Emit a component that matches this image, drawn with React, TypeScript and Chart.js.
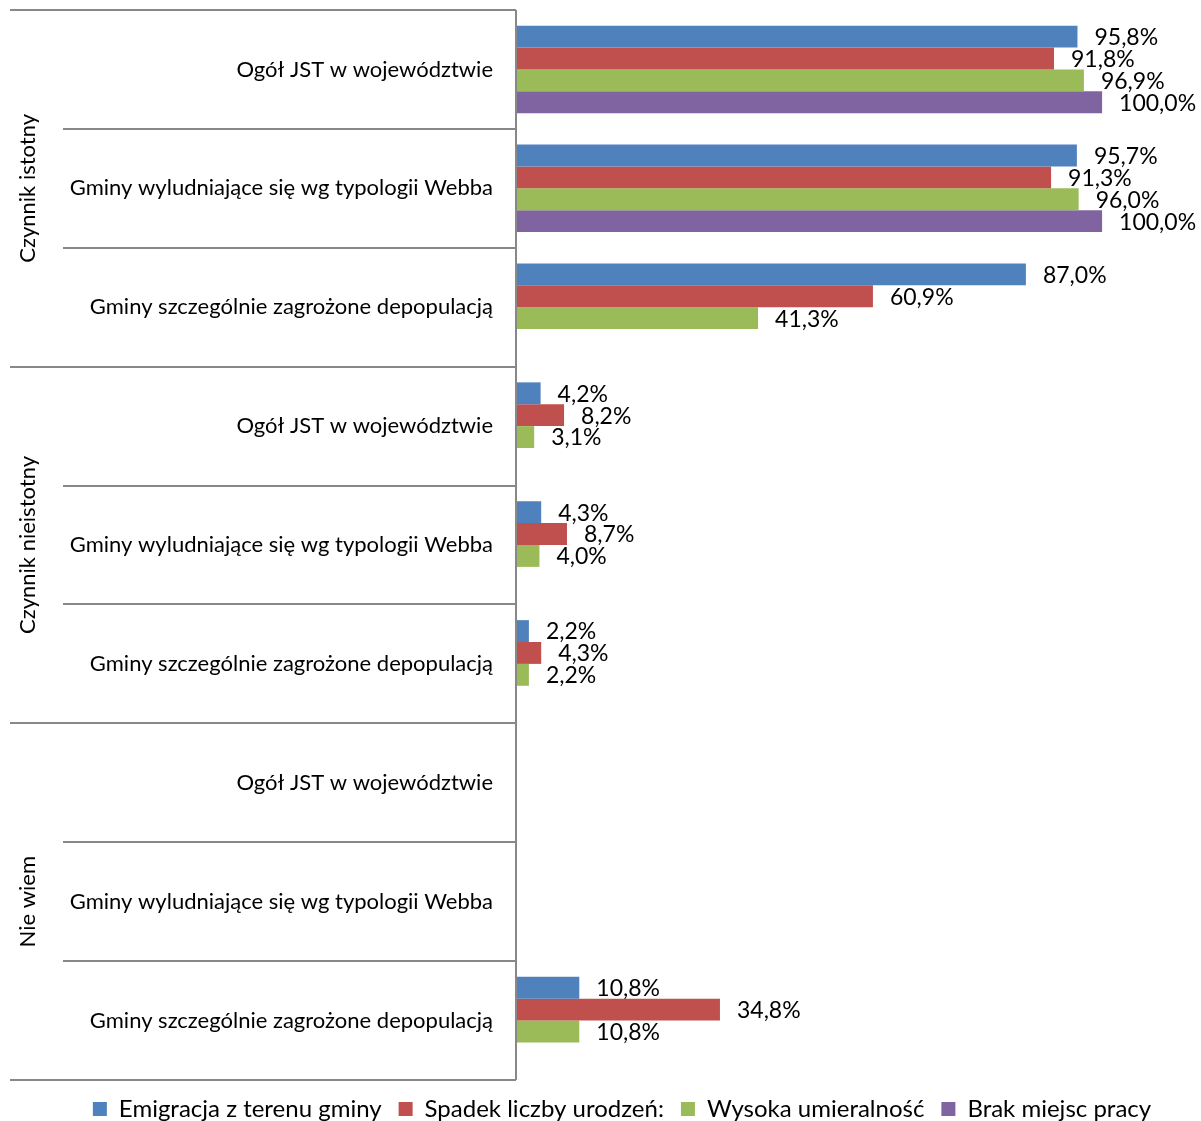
import React, { useEffect, useRef } from 'react';
import { Chart, registerables } from 'chart.js';

Chart.register(...registerables);

const categories = [
  'Ogół JST w województwie',
  'Gminy wyludniające się wg typologii Webba',
  'Gminy szczególnie zagrożone depopulacją',
  'Ogół JST w województwie',
  'Gminy wyludniające się wg typologii Webba',
  'Gminy szczególnie zagrożone depopulacją',
  'Ogół JST w województwie',
  'Gminy wyludniające się wg typologii Webba',
  'Gminy szczególnie zagrożone depopulacją',
];
const groups = ['Czynnik istotny', 'Czynnik nieistotny', 'Nie wiem'];
const groupSize = 3;

const seriesNames = ['Emigracja z terenu gminy', 'Spadek liczby urodzeń:', 'Wysoka umieralność', 'Brak miejsc pracy'];
const emigracja = [95.8, 95.7, 87.0, 4.2, 4.3, 2.2, null, null, 10.8];
const spadek = [91.8, 91.3, 60.9, 8.2, 8.7, 4.3, null, null, 34.8];
const umieralnosc = [96.9, 96.0, 41.3, 3.1, 4.0, 2.2, null, null, 10.8];
const brakPracy = [100.0, 100.0, null, null, null, null, null, null, null];
const seriesColors = ['#4F81BD', '#C0504D', '#9BBB59', '#8064A2'];

const FONT = 'Lato, "Open Sans", sans-serif';
const LINE = '#888888';

const fmt = (v: number) => v.toFixed(1).replace('.', ',') + '%';

const framePlugin = {
  id: 'frame',
  afterDraw(chart: any) {
    const { ctx, chartArea: ca } = chart;
    const y = chart.scales.y;
    const n = categories.length;
    const bounds: number[] = [];
    for (let i = 0; i <= n; i++) {
      if (i === 0) bounds.push(ca.top);
      else if (i === n) bounds.push(ca.bottom);
      else bounds.push((y.getPixelForValue(i - 1) + y.getPixelForValue(i)) / 2);
    }
    ctx.save();
    ctx.strokeStyle = LINE;
    ctx.lineWidth = 2;
    bounds.forEach((b, i) => {
      const x0 = i % groupSize === 0 ? 10 : 63;
      const yy = Math.round(b);
      ctx.beginPath();
      ctx.moveTo(x0, yy);
      ctx.lineTo(ca.left, yy);
      ctx.stroke();
    });
    ctx.beginPath();
    ctx.moveTo(ca.left, ca.top);
    ctx.lineTo(ca.left, ca.bottom);
    ctx.stroke();

    ctx.fillStyle = '#000';
    ctx.font = `22px ${FONT}`;
    ctx.textAlign = 'center';
    ctx.textBaseline = 'middle';
    groups.forEach((g, gi) => {
      const cy = (bounds[gi * groupSize] + bounds[(gi + 1) * groupSize]) / 2;
      ctx.save();
      ctx.translate(28, cy);
      ctx.rotate(-Math.PI / 2);
      ctx.fillText(g, 0, 0);
      ctx.restore();
    });
    ctx.restore();
  },
  afterDatasetsDraw(chart: any) {
    const { ctx } = chart;
    ctx.save();
    ctx.fillStyle = '#000';
    ctx.font = `23px ${FONT}`;
    ctx.textAlign = 'left';
    ctx.textBaseline = 'middle';
    chart.data.datasets.forEach((ds: any, di: number) => {
      const meta = chart.getDatasetMeta(di);
      meta.data.forEach((bar: any, j: number) => {
        const v = ds.data[j];
        if (v === null || v === undefined) return;
        ctx.fillText(fmt(v), bar.x + 17, bar.y + 1);
      });
    });
    ctx.restore();
  },
};

export default function App() {
  const ref = useRef<HTMLCanvasElement>(null);
  useEffect(() => {
    document.body.style.margin = '0';
    const chart = new Chart(ref.current!, {
      type: 'bar',
      data: {
        labels: categories,
        datasets: [emigracja, spadek, umieralnosc, brakPracy].map((d, i) => ({
          label: seriesNames[i],
          data: d,
          backgroundColor: seriesColors[i],
          borderWidth: 0,
          categoryPercentage: 0.736,
          barPercentage: 1.0,
        })),
      },
      options: {
        indexAxis: 'y',
        responsive: false,
        animation: false,
        layout: { padding: { top: 10, right: 11, left: 54, bottom: 0 } },
        scales: {
          x: { display: false, min: 0, max: 115 },
          y: {
            grid: { display: false, drawTicks: false },
            border: { display: false },
            ticks: { color: '#000', font: { family: FONT, size: 22 }, padding: 23 },
            afterFit: (s: any) => {
              s.width = 516 - 54;
              s.paddingTop = 0;
              s.paddingBottom = 0;
            },
          },
        },
        plugins: {
          tooltip: { enabled: false },
          legend: {
            position: 'bottom',
            labels: {
              color: '#000',
              font: { family: FONT, size: 24 },
              boxWidth: 14,
              boxHeight: 14,
              padding: 17,
            },
          },
        },
      },
      plugins: [framePlugin],
    });
    return () => chart.destroy();
  }, []);
  return (
    <div style={{ width: 1201, height: 1121, overflow: 'hidden' }}>
      <canvas ref={ref} width={1201} height={1131} style={{ display: 'block' }} />
    </div>
  );
}
